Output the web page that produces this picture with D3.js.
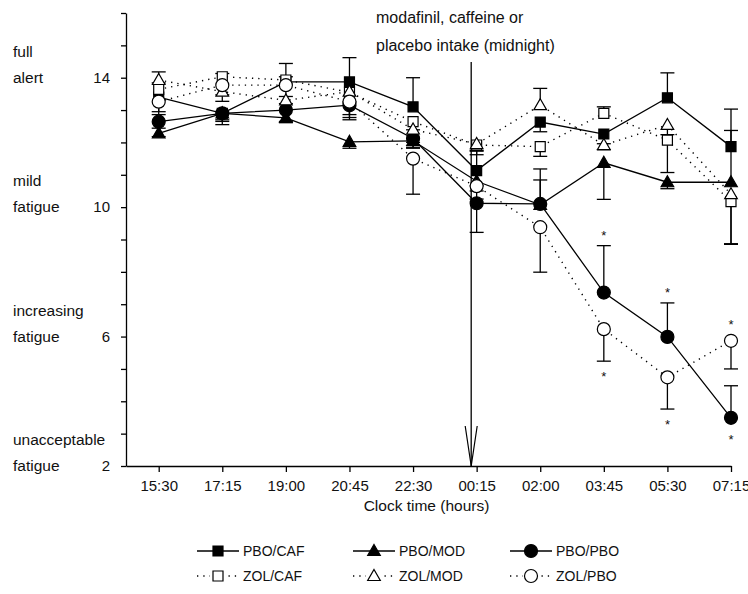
<!DOCTYPE html>
<html>
<head>
<meta charset="utf-8">
<script src="https://d3js.org/d3.v7.min.js"></script>
<style>
  body { margin: 0; background: #fff; }
  svg { display: block; font-family: "Liberation Sans", Arial, sans-serif; }
</style>
</head>
<body>
<svg id="mainsvg" width="748" height="594"></svg>
<script>
// clock times (hours since midnight of day 1) and their tick labels
const hours = [15.5, 17.25, 19, 20.75, 22.5, 24.25, 26, 27.75, 29.5, 31.25];
const timeLabels = ['15:30', '17:15', '19:00', '20:45', '22:30', '00:15', '02:00', '03:45', '05:30', '07:15'];
const intakeHour = 24.1;

// series (mean values), signed error bars (+ = drawn up, - = drawn down)
const pboCaf    = [13.40, 12.90, 13.87, 13.87, 13.10, 11.13, 12.63, 12.26, 13.38, 11.87];
const pboCafErr = [-0.45, -0.35, 0.57, 0.75, 0.90, 0.60, -0.30, -0.30, 0.77, 1.16];
const pboMod    = [12.28, 12.90, 12.76, 12.02, 12.05, 10.80, 10.07, 11.37, 10.77, 10.77];
const pboModErr = [-0.10, -0.25, -0.15, -0.20, -0.20, -0.30, 0.77, -1.13, -0.20, 1.60];
const pboPbo    = [12.64, 12.90, 13.00, 13.15, 12.12, 10.12, 10.10, 7.36, 5.99, 3.49];
const pboPboErr = [-0.20, -0.20, -0.35, -0.45, -0.30, -0.90, 1.08, 1.45, 1.05, 0.99];
const zolCaf    = [13.64, 14.03, 13.93, 13.55, 12.64, 11.92, 11.87, 12.90, 12.07, 10.17];
const zolCafErr = [0.20, 0.10, 0.10, -0.30, -0.25, -0.30, -0.30, 0.20, -1.00, -1.30];
const zolMod    = [13.93, 13.57, 13.30, 13.57, 12.40, 11.95, 13.15, 11.92, 12.54, 10.40];
const zolModErr = [0.25, -0.30, -0.10, -0.80, -0.40, -0.20, 0.52, -0.15, -0.30, -1.55];
const zolPbo    = [13.26, 13.77, 13.77, 13.26, 11.50, 10.65, 9.38, 6.23, 4.74, 5.87];
const zolPboErr = [-0.40, -0.30, -0.35, -0.40, -1.10, -0.40, -1.39, -0.99, -0.98, -0.87];
// significance stars: 1 = above the point, -1 = below, 0 = none
const pboPboSig = [0, 0, 0, 0, 0, 0, 0, 1, 1, -1];
const zolPboSig = [0, 0, 0, 0, 0, 0, 0, -1, -1, 1];

const yTicks = [2, 3, 4, 5, 6, 7, 8, 9, 10, 11, 12, 13, 14, 15, 16];
const yLabelled = [2, 6, 10, 14];
const scaleWords = [
  { v: 14, lines: ['full', 'alert'] },
  { v: 10, lines: ['mild', 'fatigue'] },
  { v: 6, lines: ['increasing', 'fatigue'] },
  { v: 2, lines: ['unacceptable', 'fatigue'] }
];

const series = [
  { name: 'PBO/CAF', values: pboCaf, err: pboCafErr, shape: 'square', filled: true, sig: null },
  { name: 'PBO/MOD', values: pboMod, err: pboModErr, shape: 'triangle', filled: true, sig: null },
  { name: 'PBO/PBO', values: pboPbo, err: pboPboErr, shape: 'circle', filled: true, sig: pboPboSig },
  { name: 'ZOL/CAF', values: zolCaf, err: zolCafErr, shape: 'square', filled: false, sig: null },
  { name: 'ZOL/MOD', values: zolMod, err: zolModErr, shape: 'triangle', filled: false, sig: null },
  { name: 'ZOL/PBO', values: zolPbo, err: zolPboErr, shape: 'circle', filled: false, sig: zolPboSig }
];

const svg = d3.select('#mainsvg');
const width = +svg.attr('width');
const height = +svg.attr('height');
const margin = { top: 13, right: 17, bottom: 128, left: 126 };
const innerWidth = width - margin.left - margin.right;
const innerHeight = height - margin.top - margin.bottom;

const xScale = d3.scaleLinear().domain([14.6, 31.25]).range([0, innerWidth]);
const yScale = d3.scaleLinear().domain([2, 16]).range([innerHeight, 0]);

const g = svg.append('g').attr('transform', `translate(${margin.left}, ${margin.top})`);

// axes
const yAxis = d3.axisLeft(yScale)
  .tickValues(yTicks)
  .tickSize(5).tickSizeOuter(0)
  .tickPadding(11)
  .tickFormat(d => yLabelled.includes(d) ? d : '');
const yAxisGroup = g.append('g').call(yAxis)
  .attr('font-size', 15).attr('font-family', null);
yAxisGroup.selectAll('path, line').attr('stroke', '#000').attr('stroke-width', 1.3);
yAxisGroup.selectAll('.tick text').filter(d => !yLabelled.includes(d)).remove();

const xAxis = d3.axisBottom(xScale)
  .tickValues(hours)
  .tickSize(6).tickSizeOuter(0)
  .tickPadding(8)
  .tickFormat((d, i) => timeLabels[i]);
const xAxisGroup = g.append('g').call(xAxis)
  .attr('transform', `translate(0, ${innerHeight})`)
  .attr('font-size', 15).attr('font-family', null);
xAxisGroup.selectAll('path, line').attr('stroke', '#000').attr('stroke-width', 1.3);
xAxisGroup.selectAll('text').attr('fill', '#111');
yAxisGroup.selectAll('text').attr('fill', '#111');

svg.append('text')
  .attr('x', margin.left + innerWidth / 2 - 2)
  .attr('y', 511)
  .attr('text-anchor', 'middle')
  .attr('font-size', 15.5)
  .attr('fill', '#111')
  .text('Clock time (hours)');

// verbal scale labels on the left
scaleWords.forEach(s => {
  const ty = margin.top + yScale(s.v);
  svg.append('text').attr('x', 13).attr('y', ty - 21)
    .attr('font-size', 15.5).attr('fill', '#111').text(s.lines[0]);
  svg.append('text').attr('x', 13).attr('y', ty + 5)
    .attr('font-size', 15.5).attr('fill', '#111').text(s.lines[1]);
});

// intake arrow
const ax = xScale(intakeHour);
g.append('line')
  .attr('x1', ax).attr('x2', ax).attr('y1', 49).attr('y2', innerHeight)
  .attr('stroke', '#000').attr('stroke-width', 1.3);
g.append('path')
  .attr('d', `M${ax - 6},${innerHeight - 40}L${ax},${innerHeight}L${ax + 6},${innerHeight - 40}`)
  .attr('fill', 'none').attr('stroke', '#000').attr('stroke-width', 1.2);
svg.append('text').attr('x', 376).attr('y', 23)
  .attr('font-size', 16).attr('fill', '#111').text('modafinil, caffeine or');
svg.append('text').attr('x', 376).attr('y', 51)
  .attr('font-size', 16).attr('fill', '#111').text('placebo intake (midnight)');

// marker drawing
const markerPath = function(shape) {
  if (shape === 'square') return 'M-5,-5H5V5H-5Z';
  if (shape === 'triangle') return 'M0,-6.5L6.3,4.5H-6.3Z';
  return d3.symbol(d3.symbolCircle, Math.PI * 6.5 * 6.5)();
};

const line = d3.line()
  .x((d, i) => xScale(hours[i]))
  .y(d => yScale(d));

// lines
series.forEach(s => {
  g.append('path')
    .datum(s.values)
    .attr('d', line)
    .attr('fill', 'none')
    .attr('stroke', '#000')
    .attr('stroke-width', s.filled ? 1.3 : 1.4)
    .attr('stroke-dasharray', s.filled ? null : '1.3,5');
});

// error bars
series.forEach(s => {
  const eb = g.append('g');
  s.values.forEach((v, i) => {
    const px = xScale(hours[i]);
    const y0 = yScale(v);
    const y1 = yScale(v + s.err[i]);
    eb.append('line').attr('x1', px).attr('x2', px).attr('y1', y0).attr('y2', y1)
      .attr('stroke', '#000').attr('stroke-width', 1.3);
    eb.append('line').attr('x1', px - 7).attr('x2', px + 7).attr('y1', y1).attr('y2', y1)
      .attr('stroke', '#000').attr('stroke-width', 1.3);
  });
});

// markers
series.forEach(s => {
  g.append('g').selectAll('path')
    .data(s.values)
    .join('path')
    .attr('transform', (d, i) => `translate(${xScale(hours[i])}, ${yScale(d)})`)
    .attr('d', markerPath(s.shape))
    .attr('fill', s.filled ? '#000' : '#fff')
    .attr('stroke', '#000')
    .attr('stroke-width', 1.2);
});

// significance stars
series.filter(s => s.sig).forEach(s => {
  s.values.forEach((v, i) => {
    const side = s.sig[i];
    if (!side) return;
    let cy;
    if (Math.sign(s.err[i]) === side) cy = yScale(v + s.err[i]) - side * 13;
    else cy = yScale(v) - side * 19;
    g.append('text')
      .attr('x', xScale(hours[i])).attr('y', cy + 7)
      .attr('text-anchor', 'middle')
      .attr('font-size', 13).attr('fill', '#111')
      .text('*');
  });
});

// legend: 3 columns x 2 rows
const legendCols = [197, 353, 510];
const legendRows = [551, 576];
series.forEach((s, k) => {
  const lx = legendCols[k % 3];
  const ly = legendRows[Math.floor(k / 3)];
  const lg = svg.append('g').attr('transform', `translate(${lx}, ${ly})`);
  lg.append('line').attr('x1', 0).attr('x2', 42).attr('y1', 0).attr('y2', 0)
    .attr('stroke', '#000').attr('stroke-width', s.filled ? 1.3 : 1.4)
    .attr('stroke-dasharray', s.filled ? null : '1.3,5');
  if (!s.filled) {
    lg.append('rect').attr('x', 13).attr('y', -7).attr('width', 16).attr('height', 14).attr('fill', '#fff');
  }
  lg.append('path').attr('transform', 'translate(21, 0)')
    .attr('d', markerPath(s.shape))
    .attr('fill', s.filled ? '#000' : '#fff')
    .attr('stroke', '#000').attr('stroke-width', 1.2);
  lg.append('text').attr('x', 46).attr('y', 5)
    .attr('font-size', 14).attr('fill', '#111').text(s.name);
});
</script>
</body>
</html>
